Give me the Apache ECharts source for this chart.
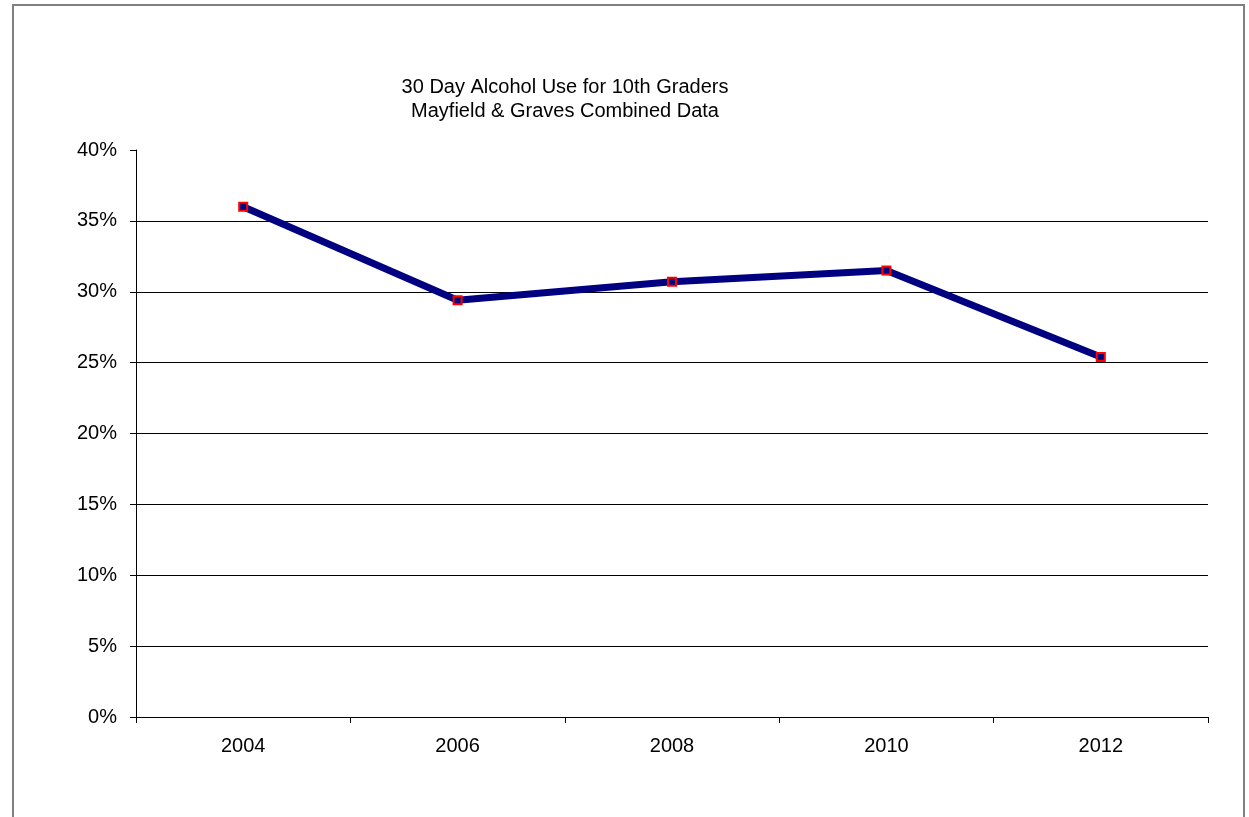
<!DOCTYPE html>
<html>
<head>
<meta charset="utf-8">
<script src="https://cdn.jsdelivr.net/npm/echarts@6/dist/echarts.min.js"></script>
<style>
  html, body { margin: 0; padding: 0; background: #fff; }
  #chart { width: 1249px; height: 817px; }
</style>
</head>
<body>
<div id="chart"></div>
<script>
// Survey years and 30-day alcohol use rate (%) for 10th graders
const years = ['2004', '2006', '2008', '2010', '2012'];
const alcoholUse = [36.0, 29.4, 30.7, 31.5, 25.4];
const titleLines = ['30 Day Alcohol Use for 10th Graders', 'Mayfield & Graves Combined Data'];

const font = '"Liberation Sans", Arial, sans-serif';
const chart = echarts.init(document.getElementById('chart'));

chart.setOption({
  backgroundColor: '#ffffff',
  animation: false,
  title: {
    text: titleLines.join('\n'),
    left: 560,
    top: 70,
    textAlign: 'center',
    textStyle: { fontFamily: font, fontSize: 20, fontWeight: 'normal', color: '#000', lineHeight: 24 }
  },
  graphic: [{
    type: 'rect',
    shape: { x: 13, y: 5, width: 1231, height: 900 },
    style: { fill: 'none', stroke: '#808080', lineWidth: 2 },
    silent: true
  }],
  grid: { left: 136, right: 41, top: 150, bottom: 100 },
  xAxis: {
    type: 'category',
    data: years,
    boundaryGap: true,
    axisLine: { lineStyle: { color: '#000', width: 1 } },
    axisTick: { show: true, length: 6, inside: false, lineStyle: { color: '#000' } },
    axisLabel: { fontFamily: font, fontSize: 20, color: '#000', margin: 19 }
  },
  yAxis: {
    type: 'value',
    min: 0,
    max: 40,
    interval: 5,
    axisLine: { show: true, lineStyle: { color: '#000', width: 1 } },
    axisTick: { show: true, length: 6, lineStyle: { color: '#000' } },
    axisLabel: { fontFamily: font, fontSize: 20, color: '#000', margin: 19, formatter: '{value}%' },
    splitLine: { show: true, showMaxLine: false, lineStyle: { color: '#000', width: 1 } }
  },
  series: [{
    type: 'line',
    data: alcoholUse,
    symbol: 'rect',
    symbolSize: 8,
    lineStyle: { color: '#000080', width: 7 },
    itemStyle: { color: '#000080', borderColor: '#ff0000', borderWidth: 2 },
    z: 3
  }]
});
</script>
</body>
</html>
